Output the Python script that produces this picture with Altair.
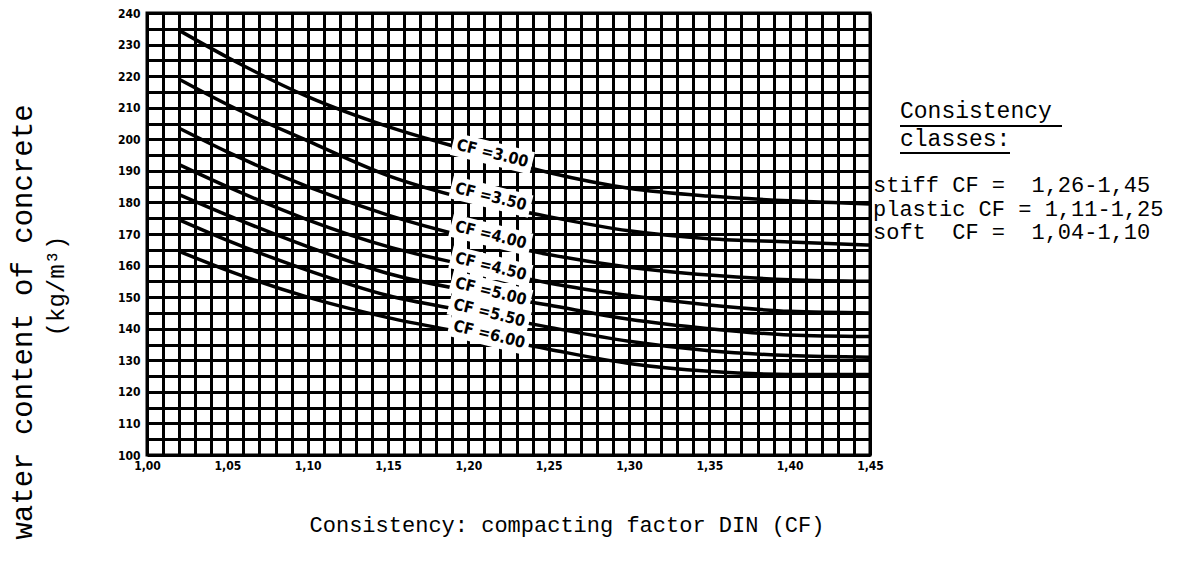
import altair as alt
import pandas as pd

# ---- data ----
cf_x = [1.02, 1.05, 1.10, 1.15, 1.20, 1.25, 1.30, 1.35, 1.40, 1.45]
cf_300 = [234.5, 226, 213.5, 204, 196.5, 189.5, 184.5, 182, 180.5, 179.5]
cf_350 = [219, 211, 199.5, 188.5, 181, 175.5, 171, 168.5, 167.5, 166.5]
cf_400 = [203.5, 196, 185, 176, 169, 163.5, 159.5, 157, 155.5, 155]
cf_450 = [192, 185, 174.5, 166, 160, 154.5, 150.5, 147.5, 145.5, 145]
cf_500 = [182.5, 176, 166, 157.5, 152, 147.5, 143, 140, 138, 137.5]
cf_550 = [174.5, 168, 158.5, 150.5, 145.5, 140.5, 136, 133, 131.5, 131]
cf_600 = [164.5, 158.5, 150, 143.5, 138.5, 133.5, 129, 126.5, 125.5, 125.5]

series_names = ["3.00", "3.50", "4.00", "4.50", "5.00", "5.50", "6.00"]
series_vals = [cf_300, cf_350, cf_400, cf_450, cf_500, cf_550, cf_600]

label_text = ["CF =3.00", "CF =3.50", "CF =4.00", "CF =4.50", "CF =5.00", "CF =5.50", "CF =6.00"]
label_x = [1.215, 1.214, 1.214, 1.214, 1.214, 1.213, 1.213]
label_y = [195.5, 181.8, 169.7, 159.7, 151.8, 145.0, 138.2]

x_grid = [round(1.00 + i * 0.01, 2) for i in range(46)]
y_grid = [100 + 5 * i for i in range(29)]

NB = "\u00a0"
class_lines = ["stiff CF =  1,26-1,45".replace(" ", NB),
               "plastic CF = 1,11-1,25".replace(" ", NB),
               "soft  CF =  1,04-1,10".replace(" ", NB)]
heading_lines = ["Consistency", "classes:"]

# ---- tables ----
rows = []
for name, vals in zip(series_names, series_vals):
    for xv, yv in zip(cf_x, vals):
        rows.append({"x": xv, "y": yv, "cf": name})
df = pd.DataFrame(rows)
lab_df = pd.DataFrame({"x": label_x, "y": label_y, "label": label_text})

MONO = "Liberation Mono, Courier New, monospace"
NARROW = "Liberation Sans Narrow, DejaVu Sans Condensed, Liberation Sans, sans-serif"

xscale = alt.Scale(domain=[1.00, 1.45], nice=False, zero=False)
yscale = alt.Scale(domain=[100, 240], nice=False, zero=False)

xaxis = alt.Axis(values=x_grid, grid=True, gridColor="black", gridWidth=3, gridOpacity=1,
                 ticks=False, domain=False, title=None, labelOverlap=False, labelFlush=False,
                 labelExpr="round(datum.value*100) % 5 == 0 ? replace(format(datum.value, '.2f'), '.', ',') : ''",
                 labelFont=NARROW, labelFontSize=12, labelFontWeight="bold", labelColor="black",
                 labelPadding=5)
yaxis = alt.Axis(values=y_grid, grid=True, gridColor="black", gridWidth=3, gridOpacity=1,
                 ticks=False, domain=False, title=None, labelOverlap=False, labelFlush=False,
                 labelExpr="datum.value % 10 == 0 ? datum.label : ''",
                 labelFont=NARROW, labelFontSize=12, labelFontWeight="bold", labelColor="black",
                 labelPadding=7)

X = alt.X("x:Q", scale=xscale, axis=xaxis)
Y = alt.Y("y:Q", scale=yscale, axis=yaxis)

lines = alt.Chart(df).mark_line(color="black", strokeWidth=3.5, interpolate="monotone").encode(
    x=X, y=Y, detail="cf:N")

rect_path = "M -1 -0.28 L 1 -0.28 L 1 0.28 L -1 0.28 Z"
boxes = alt.Chart(lab_df).mark_point(shape=rect_path, filled=True, color="white", opacity=1,
                                     size=82 * 82, angle=14, strokeWidth=0).encode(x=X, y=Y)

texts = alt.Chart(lab_df).mark_text(angle=14, font=NARROW, fontWeight="bold", fontSize=16,
                                    color="black", baseline="middle", align="center").encode(
    x=X, y=Y, text="label:N")

# axis titles as text marks (positioned like the reference)
ytitle1 = alt.Chart(pd.DataFrame({"t": ["water content of concrete"]})).mark_text(
    angle=270, font=MONO, fontSize=29, color="black", baseline="middle", align="center").encode(
    x=alt.value(-124), y=alt.value(309), text="t:N")
ytitle2 = alt.Chart(pd.DataFrame({"t": ["(kg/m³)"]})).mark_text(
    angle=270, font=MONO, fontSize=24, color="black", baseline="middle", align="center").encode(
    x=alt.value(-90), y=alt.value(273), text="t:N")
xtitle = alt.Chart(pd.DataFrame({"t": ["Consistency: compacting factor DIN (CF)"]})).mark_text(
    font=MONO, fontSize=22, color="black", baseline="middle", align="center").encode(
    x=alt.value(420), y=alt.value(512), text="t:N")

head_df = pd.DataFrame({"t": heading_lines, "py": [98, 126]})
heads = alt.Chart(head_df).mark_text(font=MONO, fontSize=23, color="black", baseline="middle",
                                     align="left").encode(
    x=alt.value(753), y=alt.Y("py:Q", scale=None), text="t:N")
ul1 = alt.Chart(pd.DataFrame({"a": [0]})).mark_rule(color="black", strokeWidth=2).encode(
    x=alt.value(753), x2=alt.value(915), y=alt.value(113))
ul2 = alt.Chart(pd.DataFrame({"a": [0]})).mark_rule(color="black", strokeWidth=2).encode(
    x=alt.value(753), x2=alt.value(863), y=alt.value(140))

cls_df = pd.DataFrame({"t": class_lines, "py": [172, 196, 219]})
cls = alt.Chart(cls_df).mark_text(font=MONO, fontSize=22, color="black", baseline="middle",
                                  align="left").encode(
    x=alt.value(726), y=alt.Y("py:Q", scale=None), text="t:N")

chart = alt.layer(lines, boxes, texts, ytitle1, ytitle2, xtitle, heads, ul1, ul2, cls).properties(
    width=723, height=442,
    autosize=alt.AutoSizeParams(type="none"),
    padding={"left": 139, "top": 5, "right": 319, "bottom": 100},
).configure_view(stroke="black", strokeWidth=3)

chart.save("out.html", embed_options={"renderer": "svg", "actions": False})
